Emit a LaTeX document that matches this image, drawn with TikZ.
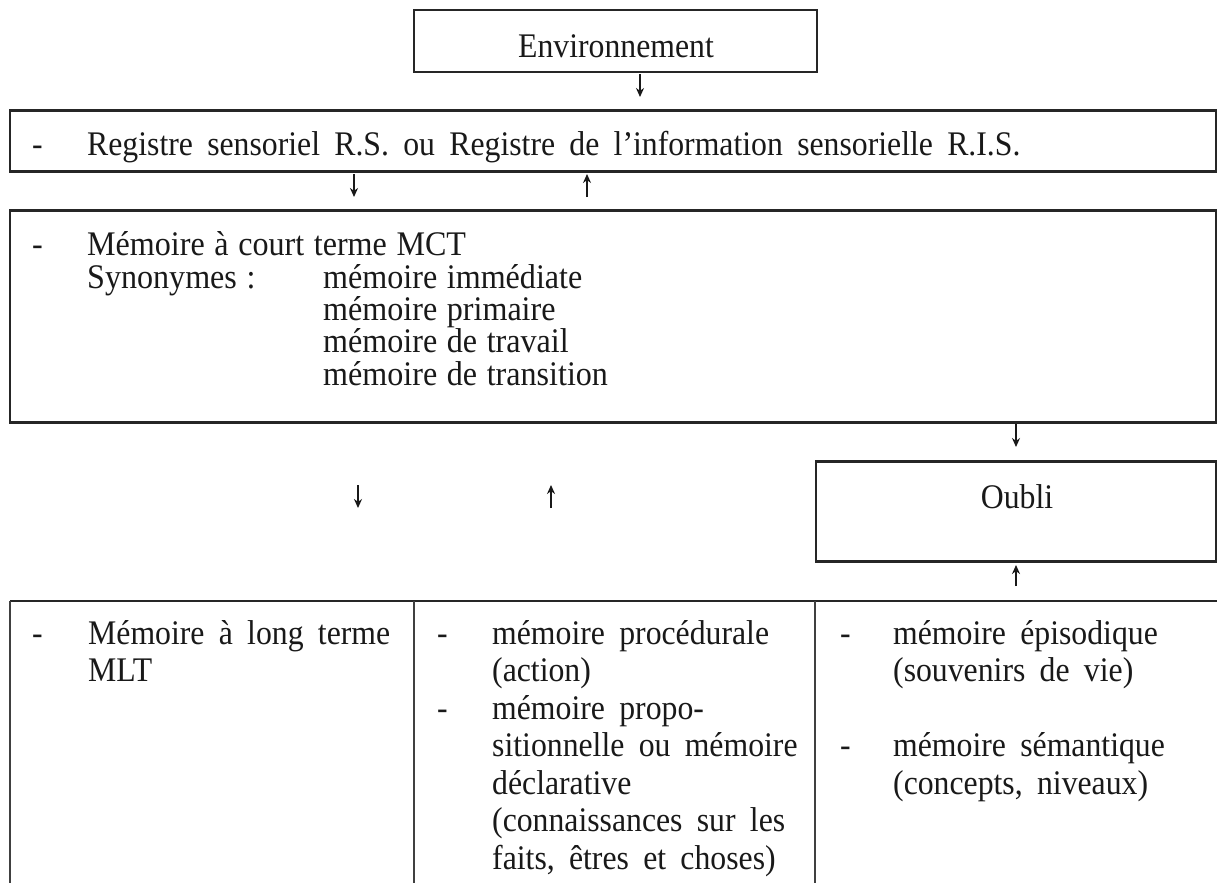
\documentclass[tikz,border=0pt]{standalone}
\usepackage{fontspec}
\setmainfont{Liberation Serif}[FakeStretch=0.92, WordSpace=1.8]
\newfontfamily\mctfont{Liberation Serif}[FakeStretch=0.93, WordSpace=1.2]
\usetikzlibrary{arrows.meta}
\begin{document}
\begin{tikzpicture}[x=1pt,y=-1pt,
  txt/.style={anchor=base west, inner sep=0pt, font=\fontsize{34.5}{40}\selectfont, text=black!90},
  mtxt/.style={txt, font=\mctfont\fontsize{34.5}{40}\selectfont},
  ctxt/.style={txt, anchor=base},
  frame/.style={draw=black!85, line width=1.4pt, inner sep=0pt},
  hline/.style={draw=black!85, line width=2.3pt},
  rule/.style={draw=black!75, line width=1.2pt},
  arr/.style={-{Stealth[length=9pt,width=8pt]}, line width=1.8pt, draw=black!90}]
\useasboundingbox (0,0) rectangle (1217,883);
% boxes
\node[frame, minimum width=403pt, minimum height=61pt] (env) at (615.5,41) {};
\node[frame, minimum width=1206pt, minimum height=60pt] (rs) at (613,141) {};
\node[frame, minimum width=1206pt, minimum height=211pt] (mct) at (613,316.5) {};
\node[frame, minimum width=400pt, minimum height=99pt] (oubli) at (1016,511.5) {};
\foreach \b in {env,rs,mct,oubli}{
  \draw[hline] (\b.north west) -- (\b.north east);
  \draw[hline] (\b.south west) -- (\b.south east);
}
% table
\coordinate (tl) at (10,601);
\coordinate (tr) at (1217,601);
\coordinate (tbl) at (10,883);
\coordinate (c1t) at (414,601);
\coordinate (c1b) at (414,883);
\coordinate (c2t) at (815,601);
\coordinate (c2b) at (815,883);
\draw[hline] (tl) -- (tr);
\draw[rule] (tl) -- (tbl);
\draw[rule] (c1t) -- (c1b);
\draw[rule] (c2t) -- (c2b);
% texts
\node[ctxt] (tenv) at (616,57) {Environnement};
\node[txt] (d1) at (32,155) {-};
\node[txt] (trs) at (87,155) {Registre sensoriel R.S. ou Registre de l’information sensorielle R.I.S.};
\node[mtxt] (d2) at (32,255) {-};
\node[mtxt] (m1) at (87,255) {Mémoire à court terme MCT};
\node[mtxt] (m2) at (87,288) {Synonymes :};
\node[mtxt] (m3) at (323,288) {mémoire immédiate};
\node[mtxt] (m4) at (323,320) {mémoire primaire};
\node[mtxt] (m5) at (323,352) {mémoire de travail};
\node[mtxt] (m6) at (323,385) {mémoire de transition};
\node[ctxt] (toubli) at (1017,508) {Oubli};
% table col 1
\node[txt] (d3) at (32,644) {-};
\node[txt] (l1) at (88,644) {Mémoire à long terme};
\node[txt] (l2) at (88,681.5) {MLT};
% col 2
\node[txt] (d4) at (437,644) {-};
\node[txt] (p1) at (492,644) {mémoire procédurale};
\node[txt] (p2) at (492,681.5) {(action)};
\node[txt] (d5) at (437,719) {-};
\node[txt] (p3) at (492,719) {mémoire propo-};
\node[txt] (p4) at (492,756.5) {sitionnelle ou mémoire};
\node[txt] (p5) at (492,794) {déclarative};
\node[txt] (p6) at (492,831.5) {(connaissances sur les};
\node[txt] (p7) at (492,869) {faits, êtres et choses)};
% col 3
\node[txt] (d6) at (840,644) {-};
\node[txt] (e1) at (893,644) {mémoire épisodique};
\node[txt] (e2) at (893,681.5) {(souvenirs de vie)};
\node[txt] (d7) at (840,756.5) {-};
\node[txt] (e3) at (893,756.5) {mémoire sémantique};
\node[txt] (e4) at (893,794) {(concepts, niveaux)};
% arrows
\coordinate (a1s) at (640,74);   \coordinate (a1e) at (640,97);
\coordinate (a2s) at (354,174);  \coordinate (a2e) at (354,197);
\coordinate (a3s) at (587,197);  \coordinate (a3e) at (587,174);
\coordinate (a4s) at (1016,424); \coordinate (a4e) at (1016,447);
\coordinate (a5s) at (358,485);  \coordinate (a5e) at (358,508);
\coordinate (a6s) at (551,508);  \coordinate (a6e) at (551,485);
\coordinate (a7s) at (1016,586); \coordinate (a7e) at (1016,565);
\draw[arr] (a1s) -- (a1e);
\draw[arr] (a2s) -- (a2e);
\draw[arr] (a3s) -- (a3e);
\draw[arr] (a4s) -- (a4e);
\draw[arr] (a5s) -- (a5e);
\draw[arr] (a6s) -- (a6e);
\draw[arr] (a7s) -- (a7e);
\end{tikzpicture}
\end{document}
